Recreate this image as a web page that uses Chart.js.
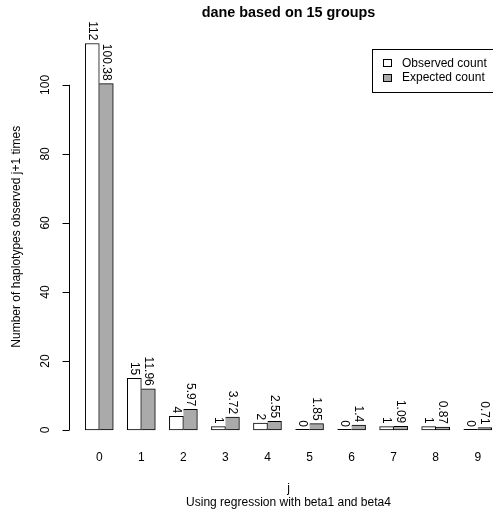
<!DOCTYPE html>
<html>
<head>
<meta charset="utf-8">
<title>dane based on 15 groups</title>
<script src="https://cdn.jsdelivr.net/npm/chart.js@4/dist/chart.umd.min.js"></script>
<style>
  html, body { margin: 0; padding: 0; background: #fff; overflow: hidden; }
  #clip { width: 493px; height: 514px; overflow: hidden; }
  #box { width: 508px; height: 514px; }
</style>
</head>
<body>
<div id="clip"><div id="box"><canvas id="myChart"></canvas></div></div>
<script>
const groups = [0, 1, 2, 3, 4, 5, 6, 7, 8, 9];
const observed = [112, 15, 4, 1, 2, 0, 0, 1, 1, 0];
const expected = [100.38, 11.96, 5.97, 3.72, 2.55, 1.85, 1.4, 1.09, 0.87, 0.71];
const yTicks = [0, 20, 40, 60, 80, 100];
const seriesNames = ['Observed count', 'Expected count'];
const mainTitle = 'dane based on 15 groups';
const xTitle = 'j';
const subTitle = 'Using regression with beta1 and beta4';
const yTitle = 'Number of haplotypes observed j+1 times';

const FONT = '"Liberation Sans", Arial, Helvetica, sans-serif';
const GRAY = '#aaaaaa';

// R style annotations: axis, titles, value labels, legend
const rStyle = {
  id: 'rStyle',
  afterDatasetsDraw(chart) {
    const ctx = chart.ctx;
    ctx.save();
    ctx.font = '12px ' + FONT;
    ctx.fillStyle = '#000';
    ctx.strokeStyle = '#000';
    ctx.lineWidth = 1;
    chart.data.datasets.forEach((ds, i) => {
      chart.getDatasetMeta(i).data.forEach((el, j) => {
        const v = ds.data[j].y;
        if (v === 0) {
          ctx.beginPath();
          ctx.moveTo(el.x - el.width / 2, Math.round(el.base) - 0.5);
          ctx.lineTo(el.x + el.width / 2, Math.round(el.base) - 0.5);
          ctx.stroke();
        }
        ctx.save();
        ctx.translate(el.x, el.y - 3);
        ctx.rotate(Math.PI / 2);
        ctx.textAlign = 'right';
        ctx.textBaseline = 'middle';
        ctx.fillText(String(v), 0, 0);
        ctx.restore();
      });
    });
    ctx.restore();
  },
  afterDraw(chart) {
    const ctx = chart.ctx;
    const area = chart.chartArea;
    const x = chart.scales.x, y = chart.scales.y;
    const cx = (area.left + area.right) / 2;
    const cy = (area.top + area.bottom) / 2;
    ctx.save();
    ctx.fillStyle = '#000';
    ctx.strokeStyle = '#000';
    ctx.lineWidth = 1;

    // y axis
    const ax = Math.round(area.left) + 0.5;
    ctx.beginPath();
    ctx.moveTo(ax, y.getPixelForValue(yTicks[0]));
    ctx.lineTo(ax, y.getPixelForValue(yTicks[yTicks.length - 1]));
    yTicks.forEach(t => {
      const py = Math.round(y.getPixelForValue(t)) + 0.5;
      ctx.moveTo(ax, py);
      ctx.lineTo(ax - 7, py);
    });
    ctx.stroke();
    ctx.font = '12px ' + FONT;
    ctx.textAlign = 'center';
    ctx.textBaseline = 'alphabetic';
    yTicks.forEach(t => {
      ctx.save();
      ctx.translate(area.left - 20, y.getPixelForValue(t));
      ctx.rotate(-Math.PI / 2);
      ctx.fillText(String(t), 0, 0);
      ctx.restore();
    });

    // x category labels
    ctx.textBaseline = 'middle';
    groups.forEach(g => ctx.fillText(String(g), x.getPixelForValue(g), 458));

    // titles
    ctx.fillText(xTitle, cx, 489);
    ctx.fillText(subTitle, cx, 503);
    ctx.save();
    ctx.translate(17, cy);
    ctx.rotate(-Math.PI / 2);
    ctx.fillText(yTitle, 0, 0);
    ctx.restore();
    ctx.font = 'bold 14.4px ' + FONT;
    ctx.fillText(mainTitle, cx, 13);

    // legend, top right of the plot region
    const lx = 372, ly = 49, lw = area.right - lx, lh = 43;
    ctx.strokeRect(lx + 0.5, ly + 0.5, lw, lh);
    ctx.font = '12px ' + FONT;
    ctx.textAlign = 'left';
    ['#ffffff', GRAY].forEach((c, i) => {
      const ry = ly + 14.4 + i * 14.4;
      ctx.fillStyle = c;
      ctx.fillRect(383.5, Math.round(ry - 4) + 0.5, 8, 7);
      ctx.strokeRect(383.5, Math.round(ry - 4) + 0.5, 8, 7);
      ctx.fillStyle = '#000';
      ctx.fillText(seriesNames[i], 402, ry);
    });
    ctx.restore();
  }
};

const ctx = document.getElementById('myChart');
const myChart = new Chart(ctx, {
  type: 'bar',
  data: {
    datasets: [{
      label: seriesNames[0],
      data: groups.map((g, i) => ({ x: g, y: observed[i] })),
      backgroundColor: '#ffffff',
      borderColor: '#000000',
      borderWidth: 1,
      borderSkipped: false,
      barThickness: 14
    }, {
      label: seriesNames[1],
      data: groups.map((g, i) => ({ x: g, y: expected[i] })),
      backgroundColor: GRAY,
      borderColor: '#000000',
      borderWidth: { top: 1, right: 1, bottom: 1, left: 0 },
      borderSkipped: false,
      barThickness: 14
    }]
  },
  options: {
    responsive: true,
    maintainAspectRatio: false,
    animation: false,
    devicePixelRatio: 1,
    layout: {
      padding: { left: 69, top: 28, right: 0, bottom: 68.5 }
    },
    scales: {
      x: {
        type: 'linear',
        offset: false,
        min: -0.72,
        max: 9.72,
        display: false
      },
      y: {
        min: -4.48,
        max: 116.48,
        display: false
      }
    },
    plugins: {
      legend: { display: false },
      title: { display: false },
      tooltip: { enabled: false }
    }
  },
  plugins: [rStyle]
});
</script>
</body>
</html>
